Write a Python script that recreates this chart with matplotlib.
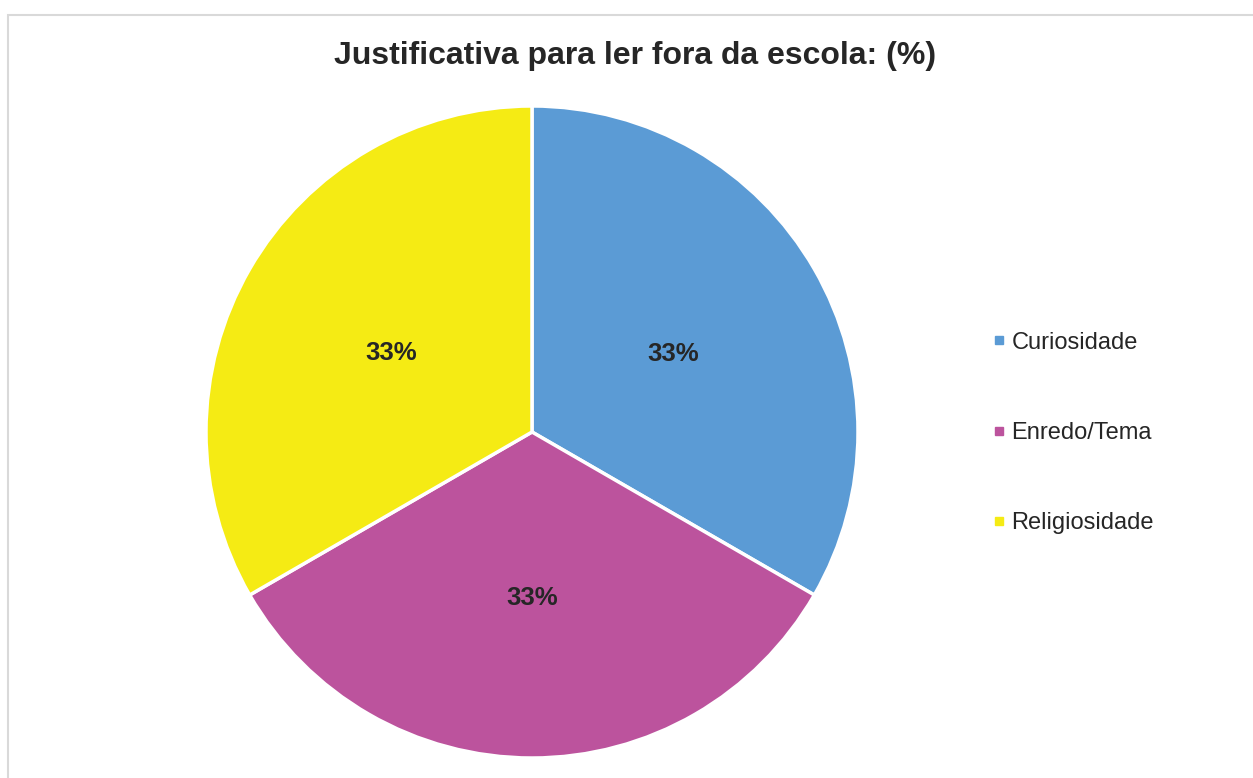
import matplotlib
matplotlib.use("Agg")
import matplotlib.pyplot as plt
import matplotlib.transforms as mtransforms
from matplotlib.lines import Line2D
from matplotlib.patches import Rectangle

categories = ["Curiosidade", "Enredo/Tema", "Religiosidade"]
values = [33, 33, 33]
colors = ["#5B9BD5", "#BC539D", "#F5EB14"]
title = "Justificativa para ler fora da escola: (%)"

plt.rcParams['font.family'] = ['Liberation Sans', 'DejaVu Sans']

W, H = 1253, 778
fig = plt.figure(figsize=(W / 100, H / 100), dpi=100)
fig.patch.set_facecolor("white")

# chart border
fig.patches.append(Rectangle((7.5 / W, -0.1), 1.2, 1 - 14.5 / H + 0.1,
                             transform=fig.transFigure, fill=False,
                             edgecolor="#D9D9D9", linewidth=1.5))

cx, cy, r = 532, 778 - 432, 326
ax = fig.add_axes([(cx - r) / W, (cy - r) / H, 2 * r / W, 2 * r / H])
wedges, texts, autotexts = ax.pie(
    values, colors=colors, startangle=90, counterclock=False,
    autopct=lambda p: f"{p:.0f}%", pctdistance=0.5,
    wedgeprops=dict(edgecolor="white", linewidth=2.5),
    textprops=dict(fontsize=18.5, fontweight="bold", color="#262626"))
shift = mtransforms.ScaledTranslation(0, -3 / 100, fig.dpi_scale_trans)
for t in autotexts:
    t.set_transform(t.get_transform() + shift)
ax.set_xlim(-1, 1)
ax.set_ylim(-1, 1)
ax.set_aspect("equal")
ax.axis("off")

fig.text(635.5 / W, 1 - 56 / H, title, ha="center", va="center",
         fontsize=23, fontweight="bold", color="#262626")

handles = [Line2D([], [], marker="s", linestyle="none", markersize=5.5,
                  markerfacecolor=c, markeredgecolor=c) for c in colors]
fig.legend(handles, categories, loc="center left",
           bbox_to_anchor=(992 / W, 1 - 433 / H), frameon=False,
           fontsize=17, labelspacing=2.9, handlelength=0.6,
           handletextpad=0.22, borderpad=0, borderaxespad=0,
           labelcolor="#262626")

fig.savefig("out.png", dpi=100)
